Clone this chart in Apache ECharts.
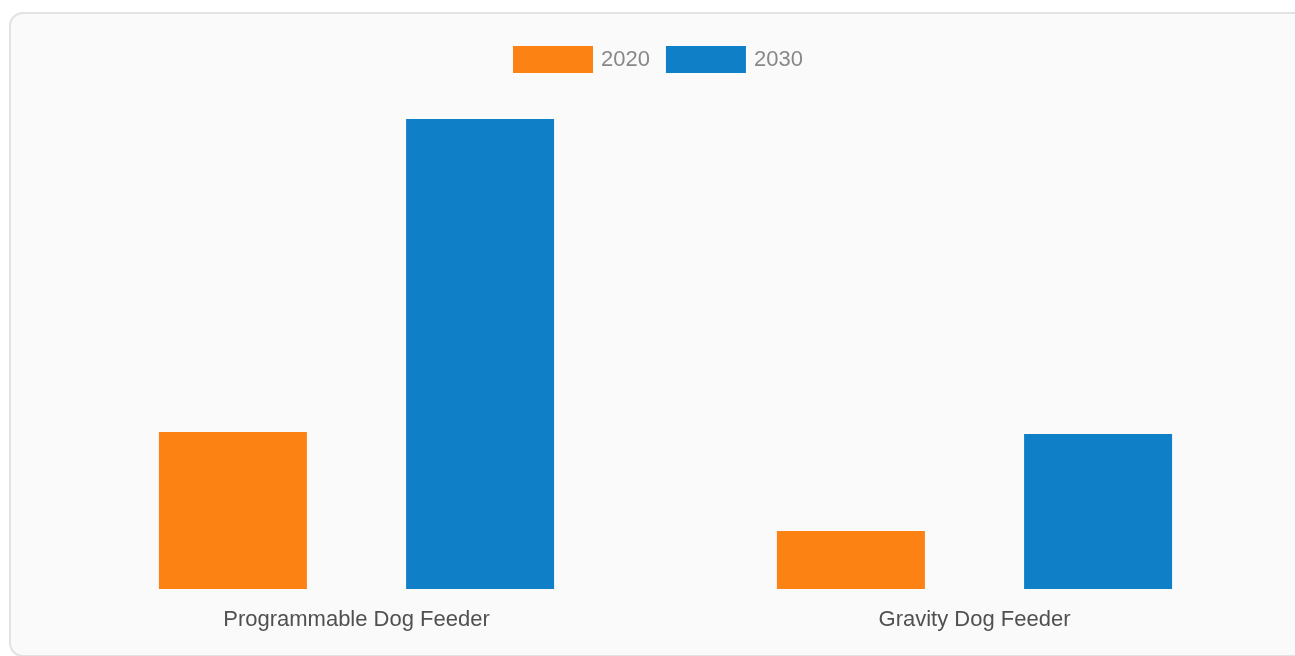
<!DOCTYPE html>
<html>
<head>
<meta charset="utf-8">
<script src="https://cdn.jsdelivr.net/npm/echarts@6/dist/echarts.min.js"></script>
<style>
  html, body { margin: 0; padding: 0; background: #ffffff; width: 1295px; height: 656px; overflow: hidden; }
  #box { position: absolute; left: 9px; top: 12px; width: 1320px; height: 645px; border: 2px solid #e2e2e2; border-radius: 14px; background: #fafafa; box-sizing: border-box; }
  #chart { position: absolute; left: 0; top: 0; width: 1295px; height: 656px; }
</style>
</head>
<body>
<div id="box"></div>
<div id="chart"></div>
<script>
const categories = ['Programmable Dog Feeder', 'Gravity Dog Feeder'];
const seriesNames = ['2020', '2030'];
const values2020 = [1.57, 0.58];
const values2030 = [4.70, 1.55];

const chart = echarts.init(document.getElementById('chart'), null, { renderer: 'canvas' });
chart.setOption({
  backgroundColor: 'transparent',
  animation: false,
  color: ['#fd8214', '#0f7fc8'],
  legend: {
    left: 508,
    top: 41,
    itemWidth: 80,
    itemHeight: 27,
    itemGap: 16,
    icon: 'rect',
    textStyle: { fontFamily: 'Liberation Sans, Arial, sans-serif', fontSize: 22, color: '#888888', padding: [0, 0, 0, 3] },
    data: seriesNames
  },
  grid: { left: 47.5, right: 11.5, top: 89, bottom: 67, containLabel: false },
  xAxis: {
    type: 'category',
    data: categories,
    axisLine: { show: false },
    axisTick: { show: false },
    axisLabel: { fontFamily: 'Liberation Sans, Arial, sans-serif', fontSize: 22, color: '#505050', margin: 20 }
  },
  yAxis: { type: 'value', min: 0, max: 5, show: false, splitLine: { show: false } },
  series: [
    { name: seriesNames[0], type: 'bar', data: values2020, barWidth: 148, barGap: '67%' },
    { name: seriesNames[1], type: 'bar', data: values2030, barWidth: 148, barGap: '67%' }
  ]
});
</script>
</body>
</html>
